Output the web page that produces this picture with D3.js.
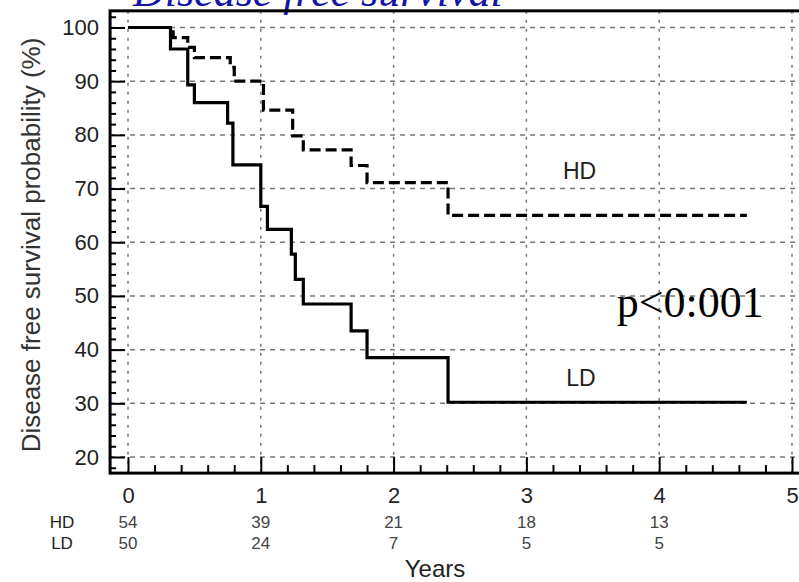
<!DOCTYPE html>
<html>
<head>
<meta charset="utf-8">
<script src="https://cdn.jsdelivr.net/npm/d3@7"></script>
<style>
  body { margin: 0; background: #fff; }
  svg { display: block; }
</style>
</head>
<body>
<svg id="km" width="799" height="582"></svg>
<script>
// Kaplan-Meier steps (years, %)
var hdTimes = [0, 0.34, 0.45, 0.50, 0.77, 0.80, 1.02, 1.24, 1.32, 1.68, 1.80, 2.41];
var hdSurv = [100, 98.1, 96.3, 94.4, 92.6, 90.0, 84.6, 79.8, 77.2, 74.3, 71.1, 65.0];
var ldTimes = [0, 0.32, 0.45, 0.50, 0.75, 0.79, 1.00, 1.05, 1.23, 1.26, 1.32, 1.68, 1.80, 2.41];
var ldSurv = [100, 96, 89.3, 86, 82.2, 74.4, 66.7, 62.4, 57.8, 53.1, 48.5, 43.5, 38.5, 30.2];
var followEnd = 4.66;

var yearTicks = [0, 1, 2, 3, 4, 5];
var survTicks = [20, 30, 40, 50, 60, 70, 80, 90, 100];
var riskGroups = ['HD', 'LD'];
var hdAtRisk = [54, 39, 21, 18, 13];
var ldAtRisk = [50, 24, 7, 5, 5];

var svg = d3.select('#km');

var x = d3.scaleLinear().domain([0, 5]).range([128, 792]);
var y = d3.scaleLinear().domain([20, 100]).range([457, 27.5]);

var xMin = -0.135, xMax = 5.2, yMin = 17, yMax = 103.1;

// title, mostly cut off by the top edge
svg.append('text')
  .attr('x', 133)
  .attr('y', 6)
  .attr('font-family', 'Liberation Serif, serif')
  .attr('font-style', 'italic')
  .attr('font-size', 44)
  .attr('fill', '#1414a8')
  .text('Disease free survival');

// grid
svg.append('g')
  .selectAll('line')
  .data(survTicks)
  .enter()
  .append('line')
  .attr('x1', x(xMin))
  .attr('x2', x(xMax))
  .attr('y1', d => y(d))
  .attr('y2', d => y(d))
  .attr('stroke', '#777')
  .attr('stroke-width', 1.5)
  .attr('stroke-dasharray', '5,5');

svg.append('g')
  .selectAll('line')
  .data(yearTicks)
  .enter()
  .append('line')
  .attr('x1', d => x(d))
  .attr('x2', d => x(d))
  .attr('y1', y(yMax))
  .attr('y2', y(yMin))
  .attr('stroke', '#777')
  .attr('stroke-width', 1.5)
  .attr('stroke-dasharray', '3,6');

// axes with inward ticks
var minorY = d3.range(18, 103, 2).filter(d => d % 10 !== 0);
var minorX = d3.range(0, 26).map(d => d / 5).filter(d => d % 1 !== 0);

var gy = svg.append('g').attr('transform', 'translate(' + x(xMin) + ',0)');
gy.call(d3.axisLeft(y).tickValues(survTicks).tickSize(-15).tickPadding(11));
gy.append('g').call(d3.axisLeft(y).tickValues(minorY).tickSize(-6).tickFormat(''));

var gx = svg.append('g').attr('transform', 'translate(0,' + y(yMin) + ')');
gx.call(d3.axisBottom(x).tickValues(yearTicks).tickSize(-16).tickPadding(14).tickFormat(d3.format('d')));
gx.append('g').call(d3.axisBottom(x).tickValues(minorX).tickSize(-8).tickFormat(''));

svg.selectAll('.domain').remove();
svg.selectAll('.tick line').attr('stroke', '#000').attr('stroke-width', 2);
svg.selectAll('.tick text')
  .attr('font-family', 'Liberation Sans, Arial, sans-serif')
  .attr('font-size', 22)
  .attr('fill', '#222');

// frame
svg.append('rect')
  .attr('x', x(xMin))
  .attr('y', y(yMax))
  .attr('width', x(xMax) - x(xMin))
  .attr('height', y(yMin) - y(yMax))
  .attr('fill', 'none')
  .attr('stroke', '#000')
  .attr('stroke-width', 3);

// curves
var line = d3.line()
  .x(d => x(d[0]))
  .y(d => y(d[1]))
  .curve(d3.curveStepAfter);

function steps(times, surv) {
  var pts = times.map((t, i) => [t, surv[i]]);
  pts.push([followEnd, surv[surv.length - 1]]);
  return pts;
}

svg.append('path')
  .attr('d', line(steps(ldTimes, ldSurv)))
  .attr('fill', 'none')
  .attr('stroke', '#000')
  .attr('stroke-width', 3.2);

svg.append('path')
  .attr('d', line(steps(hdTimes, hdSurv)))
  .attr('fill', 'none')
  .attr('stroke', '#000')
  .attr('stroke-width', 3.2)
  .attr('stroke-dasharray', '11,5');

// labels
svg.append('text')
  .attr('x', x(3.4))
  .attr('y', y(73.3))
  .attr('dy', '0.36em')
  .attr('text-anchor', 'middle')
  .attr('font-family', 'Liberation Sans, Arial, sans-serif')
  .attr('font-size', 23)
  .attr('fill', '#222')
  .text('HD');

svg.append('text')
  .attr('x', x(3.41))
  .attr('y', y(34.7))
  .attr('dy', '0.36em')
  .attr('text-anchor', 'middle')
  .attr('font-family', 'Liberation Sans, Arial, sans-serif')
  .attr('font-size', 23)
  .attr('fill', '#222')
  .text('LD');

svg.append('text')
  .attr('x', x(3.68))
  .attr('y', y(46.1))
  .attr('font-family', 'Liberation Serif, serif')
  .attr('font-size', 44)
  .attr('fill', '#000')
  .text('p<0:001');

svg.append('text')
  .attr('transform', 'translate(31,' + 245 + ') rotate(-90)')
  .attr('text-anchor', 'middle')
  .attr('dy', '0.36em')
  .attr('font-family', 'Liberation Sans, Arial, sans-serif')
  .attr('font-size', 26)
  .attr('fill', '#333')
  .text('Disease free survival probability (%)');

svg.append('text')
  .attr('x', 435)
  .attr('y', 568)
  .attr('dy', '0.36em')
  .attr('text-anchor', 'middle')
  .attr('font-family', 'Liberation Sans, Arial, sans-serif')
  .attr('font-size', 24)
  .attr('fill', '#222')
  .text('Years');

// numbers at risk
var riskRows = [hdAtRisk, ldAtRisk];
var rowY = [522, 543];

riskGroups.forEach(function(g, i) {
  svg.append('text')
    .attr('x', 62)
    .attr('y', rowY[i])
    .attr('dy', '0.36em')
    .attr('text-anchor', 'middle')
    .attr('font-family', 'Liberation Sans, Arial, sans-serif')
    .attr('font-size', 17)
    .attr('fill', '#222')
    .text(g);

  svg.append('g')
    .selectAll('text')
    .data(riskRows[i])
    .enter()
    .append('text')
    .attr('x', (d, j) => x(yearTicks[j]))
    .attr('y', rowY[i])
    .attr('dy', '0.36em')
    .attr('text-anchor', 'middle')
    .attr('font-family', 'Liberation Sans, Arial, sans-serif')
    .attr('font-size', 17)
    .attr('fill', '#444')
    .text(d => d);
});
</script>
</body>
</html>
